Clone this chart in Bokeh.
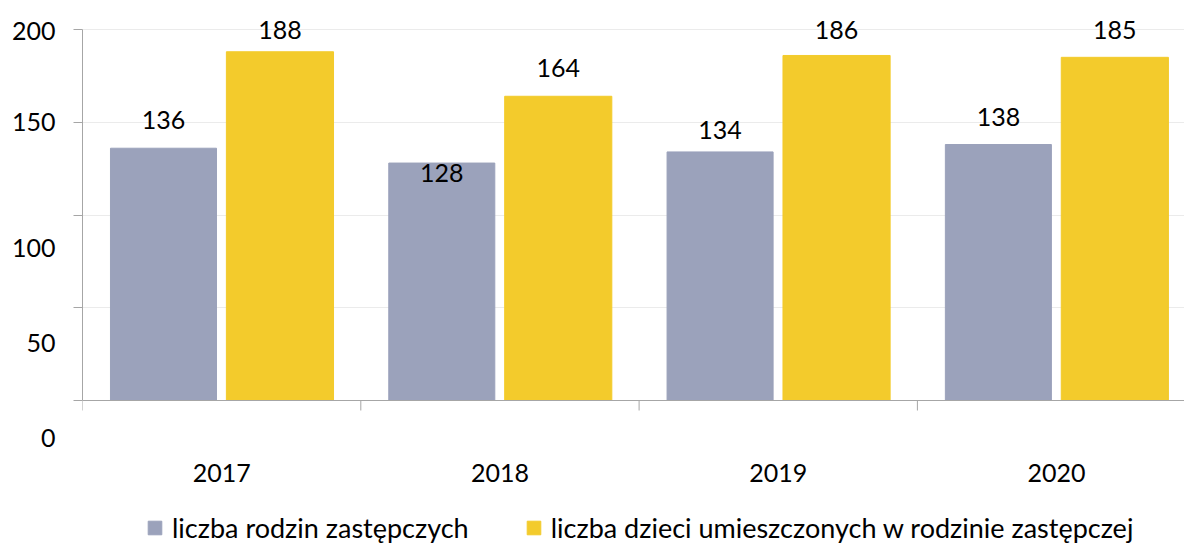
from bokeh.plotting import figure
from bokeh.models import (Range1d, FixedTicker, LabelSet, ColumnDataSource,
                          Legend, LegendItem, LinearAxis, Span)
from bokeh.transform import dodge
from bokeh.core.properties import value
from bokeh.embed import file_html
from bokeh.resources import INLINE

# ---- data ----
years = ["2017", "2018", "2019", "2020"]
rodziny = [136, 128, 134, 138]          # liczba rodzin zastępczych
dzieci = [188, 164, 186, 185]           # liczba dzieci umieszczonych w rodzinie zastępczej
y_ticks = [0, 50, 100, 150, 200]
series_names = ["liczba rodzin zastępczych",
                "liczba dzieci umieszczonych w rodzinie zastępczej"]

# ---- layout / styling ----
W, H = 1184, 545
LEFT = 82                 # frame left (px)
TOP_PX, ZERO_PX = 29, 400  # pixel rows of y=200 and y=0
PXU = (ZERO_PX - TOP_PX) / 200.0
CAT_PX = 278.3            # width of one year category in px
GREY = "#9BA2BB"
YELLOW = "#F3CB2C"
FONT = "Lato"
FS = "25px"
LEG_FS = "27px"
AXIS_COL = "#A6A6A6"
# pixel offsets of value labels above bar tops (as drawn in the original)
off_a = [28, -10, 22, 28]
off_b = [22, 28, 25, 27]
# pixel offsets of y tick labels from their gridlines (as drawn in the original)
ytick_off = [-37, -35, -33, 0, -1]

x_pos = [i + 0.5 for i in range(len(years))]
bounds_x = list(range(len(years) + 1))

src = ColumnDataSource(dict(
    x=x_pos, years=years, rodziny=rodziny, dzieci=dzieci,
    t_a=[str(v) for v in rodziny], t_b=[str(v) for v in dzieci],
    off_a=off_a, off_b=off_b, zero=[0] * len(years),
))

y_end = 200 + TOP_PX / PXU
y_start = y_end - H / PXU
p = figure(width=W, height=H, x_range=Range1d(0, (W - LEFT) / CAT_PX),
           y_range=Range1d(y_start, y_end),
           output_backend="svg", toolbar_location=None,
           min_border_left=LEFT, min_border_right=0, min_border_top=0, min_border_bottom=0)
p.outline_line_color = None
p.background_fill_color = "white"
p.xaxis.visible = False

r1 = p.vbar(x=dodge("x", -0.209, range=p.x_range), top="rodziny", width=0.381,
            color=GREY, source=src)
r2 = p.vbar(x=dodge("x", 0.2095, range=p.x_range), top="dzieci", width=0.385,
            color=YELLOW, source=src)

for col, txt, off, dx in (("rodziny", "t_a", "off_a", -0.209), ("dzieci", "t_b", "off_b", 0.2095)):
    p.add_layout(LabelSet(x=dodge("x", dx, range=p.x_range), y=col, text=txt, y_offset=off,
                          source=src, text_align="center", text_baseline="middle",
                          text_font=value(FONT), text_font_size=value(FS),
                          text_color="#000000"))

# y axis: ticks + line
p.yaxis.ticker = FixedTicker(ticks=y_ticks)
p.yaxis.bounds = (0, 200)
p.yaxis.major_label_overrides = {t: "" for t in y_ticks}
p.yaxis.major_label_standoff = 0
p.yaxis.major_tick_out = 9
p.yaxis.major_tick_in = 0
p.yaxis.minor_tick_line_color = None
p.yaxis.axis_line_color = AXIS_COL
p.yaxis.major_tick_line_color = AXIS_COL

# y tick labels (drawn where the original shows them)
lab_pos = [t + o / PXU for t, o in zip(y_ticks, ytick_off)]
ylab = LinearAxis(ticker=FixedTicker(ticks=lab_pos),
                  major_label_overrides={pos: str(t) for pos, t in zip(lab_pos, y_ticks)},
                  axis_line_color=None, major_tick_line_color=None, minor_tick_line_color=None,
                  major_tick_out=0, major_tick_in=0, major_label_standoff=18,
                  major_label_text_font=FONT, major_label_text_font_size=FS,
                  major_label_text_color="#000000")
p.add_layout(ylab, "left")

p.ygrid.ticker = FixedTicker(ticks=y_ticks[1:])
p.ygrid.grid_line_color = "#EBEBEB"
p.xgrid.grid_line_color = None

# x axis line, category boundary ticks and year labels
p.add_layout(Span(location=0, dimension="width", line_color=AXIS_COL, line_width=1))
p.ray(x=bounds_x, y=[0] * len(bounds_x), length=10, length_units="screen",
      angle=-90, angle_units="deg", line_color=AXIS_COL, line_width=1)
p.add_layout(LabelSet(x="x", y="zero", text="years", y_offset=-72, source=src,
                      text_align="center", text_baseline="middle",
                      text_font=value(FONT), text_font_size=value(FS), text_color="#000000"))

legend = Legend(items=[LegendItem(label=series_names[0], renderers=[r1]),
                       LegendItem(label=series_names[1], renderers=[r2])],
                orientation="horizontal", location=(64, 1),
                glyph_width=17, glyph_height=17, label_standoff=9, spacing=56,
                padding=0, margin=0, border_line_color=None, background_fill_alpha=0,
                label_text_font=FONT, label_text_font_size=LEG_FS, label_text_color="#000000",
                label_height=17)
p.add_layout(legend)

open("out.html", "w").write(file_html(p, INLINE))
